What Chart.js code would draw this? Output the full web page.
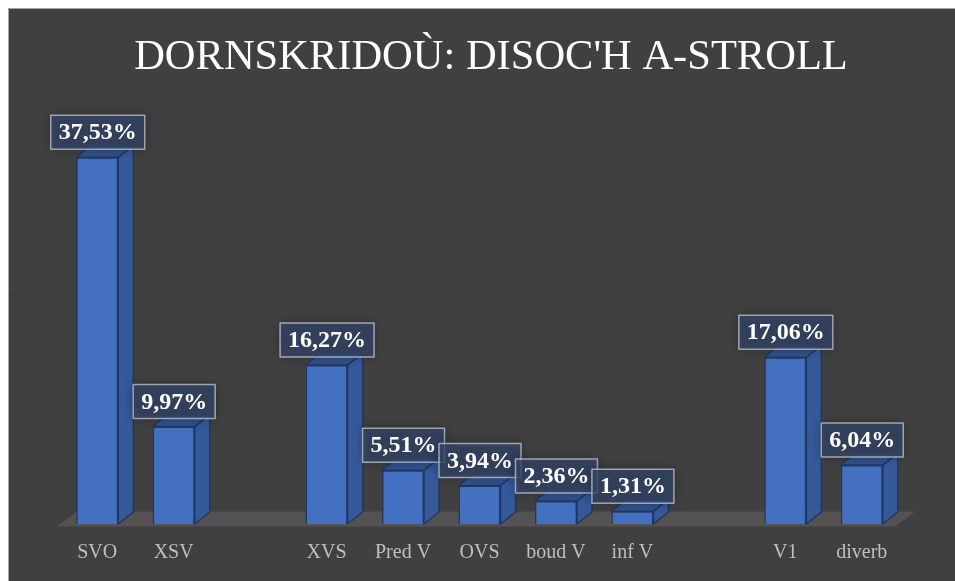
<!DOCTYPE html>
<html>
<head>
<meta charset="utf-8">
<script src="https://cdn.jsdelivr.net/npm/chart.js@4.4.1/dist/chart.umd.min.js"></script>
<style>
    html, body { margin: 0; padding: 0; background: #fff; }
    #wrap { width: 955px; height: 581px; }
</style>
</head>
<body>
<div id="wrap"><canvas id="myChart" width="955" height="581"></canvas></div>
<script>
// Data (empty categories are the gaps between groups)
const categories = ['SVO', 'XSV', '', 'XVS', 'Pred V', 'OVS', 'boud V', 'inf V', '', 'V1', 'diverb'];
const shares = [37.53, 9.97, null, 16.27, 5.51, 3.94, 2.36, 1.31, null, 17.06, 6.04];
const chartTitle = "DORNSKRIDOÙ: DISOC'H A-STROLL";

const depthX = 15;
const depthY = 12;

function formatShare(v) {
    return v.toFixed(2).replace('.', ',') + '%';
}

// background, white margin and the frame line
const backgroundPlugin = {
    id: 'background',
    beforeDraw(chart) {
        const ctx = chart.ctx;
        ctx.save();
        ctx.fillStyle = '#ffffff';
        ctx.fillRect(0, 0, chart.width, chart.height);
        ctx.fillStyle = '#404040';
        ctx.fillRect(8, 8, chart.width - 8, chart.height - 8);
        ctx.strokeStyle = '#a6a6a6';
        ctx.lineWidth = 1;
        ctx.beginPath();
        ctx.moveTo(8.5, chart.height);
        ctx.lineTo(8.5, 8.5);
        ctx.lineTo(chart.width, 8.5);
        ctx.stroke();

        ctx.fillStyle = '#ffffff';
        ctx.font = '42.5px "Liberation Serif", "Times New Roman", serif';
        ctx.textAlign = 'center';
        ctx.textBaseline = 'alphabetic';
        ctx.fillText(chartTitle, 491, 69);
        ctx.restore();
    },
    beforeDatasetsDraw(chart) {
        // floor
        const ctx = chart.ctx;
        const area = chart.chartArea;
        const zero = chart.scales.y.getPixelForValue(0);
        ctx.save();
        ctx.fillStyle = '#545252';
        ctx.beginPath();
        ctx.moveTo(area.left - 2, zero + 2.5);
        ctx.lineTo(area.right - 5, zero + 2.5);
        ctx.lineTo(area.right + 15, zero - 12.5);
        ctx.lineTo(area.left + 18, zero - 12.5);
        ctx.closePath();
        ctx.fill();
        ctx.restore();
    }
};

// side and top faces of the bars, then the value boxes
const bars3dPlugin = {
    id: 'bars3d',
    afterDatasetsDraw(chart) {
        const ctx = chart.ctx;
        const meta = chart.getDatasetMeta(0);
        ctx.save();
        ctx.lineWidth = 1.5;
        ctx.strokeStyle = '#203864';
        ctx.lineJoin = 'round';
        meta.data.forEach((bar, i) => {
            if (shares[i] == null) return;
            const p = bar.getProps(['x', 'y', 'base', 'width'], true);
            const l = p.x - p.width / 2;
            const r = p.x + p.width / 2;

            ctx.fillStyle = '#36599a';
            ctx.beginPath();
            ctx.moveTo(r, p.y);
            ctx.lineTo(r + depthX, p.y - depthY);
            ctx.lineTo(r + depthX, p.base - depthY);
            ctx.lineTo(r, p.base);
            ctx.closePath();
            ctx.fill();
            ctx.stroke();

            ctx.fillStyle = '#32528c';
            ctx.beginPath();
            ctx.moveTo(l, p.y);
            ctx.lineTo(l + depthX, p.y - depthY);
            ctx.lineTo(r + depthX, p.y - depthY);
            ctx.lineTo(r, p.y);
            ctx.closePath();
            ctx.fill();
            ctx.stroke();
        });

        ctx.font = 'bold 24px "Liberation Serif", "Times New Roman", serif';
        ctx.textAlign = 'center';
        ctx.textBaseline = 'middle';
        meta.data.forEach((bar, i) => {
            if (shares[i] == null) return;
            const p = bar.getProps(['x', 'y'], true);
            const text = formatShare(shares[i]);
            const w = ctx.measureText(text).width + 16;
            const h = 34;
            const cx = p.x + 0.5;
            const cy = p.y - 25;

            ctx.save();
            ctx.shadowColor = 'rgba(0,0,0,0.45)';
            ctx.shadowBlur = 10;
            ctx.fillStyle = 'rgba(52,70,108,0.72)';
            ctx.fillRect(cx - w / 2, cy - h / 2, w, h);
            ctx.restore();

            ctx.strokeStyle = 'rgba(195,200,210,0.75)';
            ctx.lineWidth = 1.5;
            ctx.strokeRect(cx - w / 2, cy - h / 2, w, h);

            ctx.fillStyle = '#ffffff';
            ctx.fillText(text, cx, cy + 1);
        });
        ctx.restore();
    }
};

let ctx = document.getElementById('myChart');

let barChart = new Chart(ctx, {
    type: 'bar',
    data: {
        labels: categories,
        datasets: [{
            data: shares,
            backgroundColor: '#4370c0',
            borderColor: '#203864',
            borderWidth: 1.5,
            categoryPercentage: 1,
            barPercentage: 0.55,
        }]
    },
    options: {
        responsive: false,
        animation: false,
        devicePixelRatio: 1,
        layout: {
            padding: { left: 59, right: 55, top: 133, bottom: 0 }
        },
        plugins: {
            legend: { display: false },
            title: { display: false },
            tooltip: { enabled: false },
        },
        scales: {
            x: {
                grid: { display: false, drawTicks: false },
                border: { display: false },
                ticks: {
                    color: '#bfbfbf',
                    padding: 17,
                    font: { family: '"Liberation Serif", "Times New Roman", serif', size: 20 },
                    maxRotation: 0,
                    autoSkip: false,
                },
                afterFit: function (scale) {
                    scale.height = 57;
                }
            },
            y: {
                display: false,
                min: 0,
                max: 40,
            }
        }
    },
    plugins: [backgroundPlugin, bars3dPlugin]
});
</script>
</body>
</html>
